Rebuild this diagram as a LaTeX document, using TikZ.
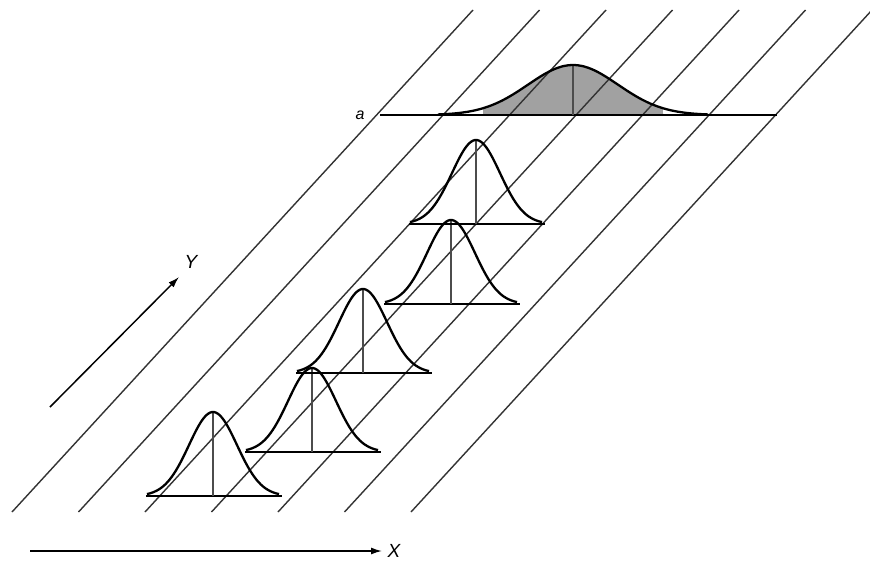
\documentclass[tikz,border=0pt]{standalone}
\usepackage{fontspec}
\setmainfont{Liberation Sans}
\usetikzlibrary{arrows.meta}
\begin{document}
\begin{tikzpicture}[x=1pt,y=-1pt,
  diag/.style={line width=1.4pt, draw=black!80},
  base/.style={line width=2.4pt},
  bell/.style={line width=2.3pt, line join=round},
  mid/.style={line width=1.6pt, draw=black!70},
  shade/.style={fill=black!37},
  lbl/.style={font=\itshape\fontsize{19}{19}\selectfont, inner sep=0pt},
  smalllbl/.style={font=\itshape\fontsize{16}{16}\selectfont, inner sep=0pt},
  axis/.style={line width=1.5pt, -{Latex[length=11pt,width=7pt]}}]
\useasboundingbox (0,0) rectangle (870,560);
\fill[white] (0,0) rectangle (870,560);
% shaded part of the top distribution
\fill[shade] plot[domain=-2:2,samples=50] ({573+45*\x},{115-50*exp(-0.5*(\x)*(\x))}) -- (663,115) -- (483,115) -- cycle;
% diagonal Y lines
\foreach \i in {0,...,6}{
  \coordinate (d\i a) at ({12+66.5*\i},512);
  \coordinate (d\i b) at ({473+66.5*\i},10);
  \draw[diag] (d\i a) -- (d\i b);
}
% top distribution
\coordinate (tl) at (380,115);
\coordinate (tr) at (777,115);
\coordinate (tc) at (573,115);
\coordinate (tp) at (573,65);
\draw[base] (tl) -- (tr);
\draw[mid] (tc) -- (tp);
\draw[bell] plot[domain=-3:3,samples=80] ({573+45*\x},{115-50*exp(-0.5*(\x)*(\x))});
\node[smalllbl] (alab) at (360,115) {a};
% small distributions
\foreach \n/\cx/\by in {1/213/496, 2/312/452, 3/363/373, 4/451/304, 5/476/224}{
  \coordinate (bl\n) at ({\cx-67},\by);
  \coordinate (br\n) at ({\cx+69},\by);
  \coordinate (c\n) at (\cx,\by);
  \coordinate (p\n) at (\cx,{\by-84});
  \draw[base] (bl\n) -- (br\n);
  \draw[mid] (c\n) -- (p\n);
  \draw[bell] plot[domain=-2.75:2.75,samples=60] ({\cx+24*\x},{\by-84*exp(-0.5*(\x)*(\x))});
}
% axes
\coordinate (ys) at (50,407);
\coordinate (ye) at (179,277);
\draw[axis] (ys) -- (ye);
\node[lbl] (ylab) at (191,262) {Y};
\coordinate (xs) at (30,551);
\coordinate (xe) at (382,551);
\draw[axis] (xs) -- (xe);
\node[lbl] (xlab) at (394,551) {X};
\end{tikzpicture}
\end{document}
